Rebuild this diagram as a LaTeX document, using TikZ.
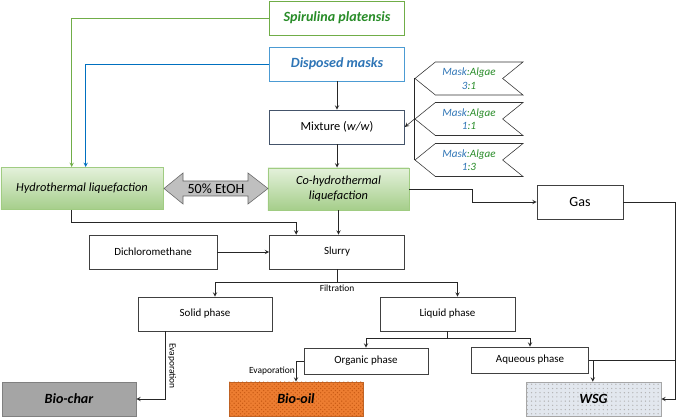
\documentclass[tikz,border=0pt]{standalone}
\usepackage{fontspec}
\setmainfont{Carlito}
\usetikzlibrary{arrows, positioning, calc, shapes.symbols, patterns}
\definecolor{algaegreen}{RGB}{40,140,40}
\definecolor{algaeline}{RGB}{112,173,71}
\definecolor{maskblue}{RGB}{46,117,182}
\definecolor{maskline}{RGB}{0,112,192}
\definecolor{htltop}{RGB}{228,241,219}
\definecolor{htlbot}{RGB}{165,206,138}
\definecolor{htlline}{RGB}{160,204,130}
\definecolor{mixline}{RGB}{68,84,106}
\definecolor{charfill}{RGB}{165,165,165}
\definecolor{oilfill}{RGB}{237,125,49}
\definecolor{oildots}{RGB}{200,90,20}
\definecolor{wsgfill}{RGB}{226,231,238}

\begin{document}
\begin{tikzpicture}[x=0.025cm, y=-0.025cm]
            \tikzstyle{block} = [rectangle, draw=black!75, fill=white, minimum width=3.375cm, minimum height=0.85cm, inner sep=1pt, align=center, font=\fontsize{7.8}{9.4}\selectfont]
            \tikzstyle{feed} = [block, line width=0.6pt, font=\fontsize{10}{12}\selectfont\bfseries\itshape]
            \tikzstyle{htl} = [block, draw=htlline, top color=htltop, bottom color=htlbot, minimum height=1.06cm, font=\fontsize{8.8}{10.6}\selectfont\itshape]
            \tikzstyle{product} = [block, font=\fontsize{10}{12}\selectfont\bfseries\itshape]
            \tikzstyle{tag} = [signal, signal to=west, signal from=east, signal pointer angle=78, draw=black!80, fill=white, minimum width=2.7cm, minimum height=0.825cm, inner sep=0pt, align=center, font=\fontsize{7.9}{9.6}\selectfont\itshape]
            \tikzstyle{small} = [inner sep=0pt, font=\fontsize{6.7}{8}\selectfont]
            \tikzstyle{arrow} = [->,>=stealth, black!85]
            \useasboundingbox (0,0) rectangle (676,418);

            % feedstocks
            \node[feed, draw=algaeline, text=algaegreen] (spir) at (337,18) {Spirulina platensis};
            \node[feed, draw=maskline!70, text=maskblue] (masks) at (337,64) {Disposed masks};
            \node[block, draw=mixline, font=\fontsize{8.8}{10.6}\selectfont] (mix) at (337,127) {Mixture (\textit{w/w})};

            % ratios
            \node[tag] (r1) at (469,78.5) {\textcolor{maskblue}{Mask}\textcolor{algaegreen}{:Algae}\\\textcolor{maskblue}{3}\textcolor{algaegreen}{:1}};
            \node[tag] (r2) at (469,119) {\textcolor{maskblue}{Mask}\textcolor{algaegreen}{:Algae}\\\textcolor{maskblue}{1}\textcolor{algaegreen}{:1}};
            \node[tag] (r3) at (469,160) {\textcolor{maskblue}{Mask}\textcolor{algaegreen}{:Algae}\\\textcolor{maskblue}{1}\textcolor{algaegreen}{:3}};

            % liquefaction
            \node[htl, minimum width=4.05cm] (hyd) at (82,188.5) {Hydrothermal liquefaction};
            \node[htl, minimum width=3.525cm] (co) at (338.5,189) {Co-hydrothermal\\liquefaction};
            \draw[black!60, fill=black!25] (164,188.5) -- (183,173) -- (183,181) -- (248,181) -- (248,173) -- (268,188.5) -- (248,204) -- (248,196) -- (183,196) -- (183,204) -- cycle;
            \node[inner sep=0pt, font=\fontsize{10}{12}\selectfont] (etoh) at (216,188.5) {50\% EtOH};
            \node[block, minimum width=2.15cm, font=\fontsize{10}{12}\selectfont] (gas) at (580,202) {Gas};

            % separation
            \node[block, minimum width=3.2cm] (dcm) at (153,252) {Dichloromethane};
            \node[block] (slurry) at (337,252) {Slurry};
            \node[block, minimum width=3.35cm] (solid) at (205,314) {Solid phase};
            \node[block] (liquid) at (447.5,314) {Liquid phase};
            \node[block, minimum width=3.1cm, minimum height=0.65cm] (organic) at (366,361) {Organic phase};
            \node[block, minimum width=2.925cm, minimum height=0.65cm] (aqueous) at (530,360) {Aqueous phase};

            % products
            \node[product, minimum width=3.35cm, draw=black!50, fill=charfill] (biochar) at (69,399) {Bio-char};
            \node[product, minimum width=3.35cm, draw=oilfill!80!black, fill=oilfill, postaction={pattern=crosshatch dots, pattern color=oildots}] (biooil) at (296,399) {Bio-oil};
            \node[product, draw=black!35, fill=wsgfill, postaction={pattern=dots, pattern color=black!30}] (wsg) at (593.5,399) {WSG};

            \node[small] (filt) at (337,288) {Filtration};
            \node[small, anchor=east] (evap1) at (295,371) {Evaporation};
            \node[small, rotate=-90] (evap2) at (172,366) {Evaporation};

            \draw[arrow, algaeline] (spir.west) -| ($(hyd.north west)+(71,0)$);
            \draw[arrow, maskline] (masks.west) -| ($(hyd.north west)+(85,0)$);
            \draw[arrow] (masks.south) -- (mix.north);
            \draw[black!85] (r1.west) -- (r3.west);
            \draw[arrow] (r2.west) -- (mix.east);
            \draw[arrow] (mix.south) -- (mix.south |- co.north);
            \draw[arrow] (co.east) -- ++(63,0) |- (gas.west);
            \draw[arrow] (gas.east) -- ++(52,0) |- (wsg.east);
            \draw[arrow] ($(hyd.south west)+(71,0)$) -- ++(0,12) -| ($(slurry.north west)+(27,0)$);
            \draw[arrow] (co.south) -- (co.south |- slurry.north);
            \draw[arrow] (dcm.east) -- (slurry.west);
            \draw[arrow] (slurry.south) -- ++(0,13) -| ($(solid.north)+(10,0)$);
            \draw[arrow] (slurry.south) -- ++(0,13) -| ($(liquid.north)+(10,0)$);
            \draw[arrow] (liquid.south) -- ++(0,7) -| (organic.north);
            \draw[arrow] (liquid.south) -- ++(0,7) -| (aqueous.north);
            \draw[arrow] (organic.west) -| (biooil.north);
            \draw[black!85] (aqueous.east) -- ++(86,0);
            \draw[arrow] ([xshift=0.1cm]aqueous.east) -- ([xshift=0.1cm]aqueous.east |- wsg.north);
            \draw[arrow] ($(solid.south west)+(28,0)$) |- (biochar.east);
        \end{tikzpicture}
\end{document}
